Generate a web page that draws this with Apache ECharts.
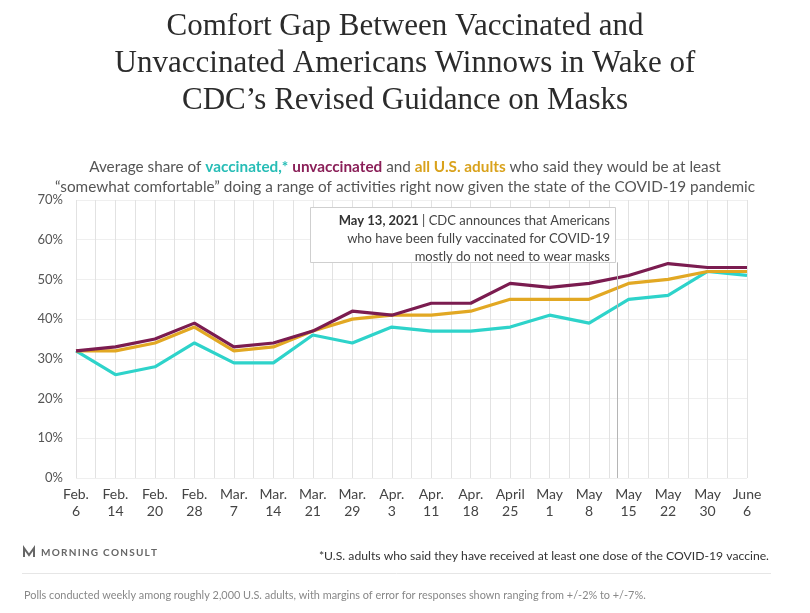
<!DOCTYPE html>
<html>
<head>
<meta charset="utf-8">
<script src="https://cdn.jsdelivr.net/npm/echarts@6/dist/echarts.min.js"></script>
<style>html,body{margin:0;padding:0;background:#fff;}#c{width:810px;height:613px;}</style>
</head>
<body>
<div id="c"></div>
<script>
const categories = ['Feb.\n6','Feb.\n14','Feb.\n20','Feb.\n28','Mar.\n7','Mar.\n14','Mar.\n21','Mar.\n29','Apr.\n3','Apr.\n11','Apr.\n18','April\n25','May\n1','May\n8','May\n15','May\n22','May\n30','June\n6'];
const vaccinated   = [32,26,28,34,29,29,36,34,38,37,37,38,41,39,45,46,52,51];
const unvaccinated = [32,33,35,39,33,34,37,42,41,44,44,49,48,49,51,54,53,53];
const allAdults    = [32,32,34,38,32,33,37,40,41,41,42,45,45,45,49,50,52,52];
const yTicks = [0,10,20,30,40,50,60,70];
const cdcDatePos = 13 + 5/7; // May 13 between May 8 and May 15
const cdcLineTop = 54.3;

const chart = echarts.init(document.getElementById('c'), null, {renderer:'canvas'});
const sans = 'Lato, "Noto Sans", sans-serif';
const toPairs = arr => arr.map((v,i)=>[i,v]);

const lineSeries = (name, data, color, z) => ({
  name, type:'line', data: toPairs(data), symbol:'none', z,
  lineStyle:{color, width:3.2}, itemStyle:{color}, silent:true
});

const option = {
  animation:false,
  backgroundColor:'#fff',
  grid:{left:76, right:63, top:200, bottom:135},
  xAxis:{
    type:'value', min:0, max:categories.length-1, interval:0.5,
    axisLine:{show:false}, axisTick:{show:false},
    splitLine:{show:true, lineStyle:{color:'#e2e2e2', width:1}},
    axisLabel:{
      color:'#444', fontFamily:sans, fontSize:14, lineHeight:17, margin:8,
      formatter: v => Number.isInteger(v) ? categories[v] : ''
    }
  },
  yAxis:{
    type:'value', min:yTicks[0], max:yTicks[yTicks.length-1], interval:10,
    axisLine:{show:false}, axisTick:{show:false},
    splitLine:{show:true, lineStyle:{color:'#efefef', width:1}},
    axisLabel:{color:'#555', fontFamily:sans, fontSize:13, margin:13, formatter: v => v + '%'}
  },
  series:[
    Object.assign(lineSeries('all', allAdults, '#E2A823', 3), {
      markLine:{
        silent:true, symbol:['none','none'], label:{show:false},
        lineStyle:{color:'#b5b5b5', width:1, type:'solid'},
        data:[[{coord:[cdcDatePos,0]},{coord:[cdcDatePos,cdcLineTop]}]]
      }
    }),
    lineSeries('vaccinated', vaccinated, '#2ED3CA', 2),
    lineSeries('unvaccinated', unvaccinated, '#7B1C50', 4),
  ],
  graphic:[
    {type:'text', x:405, y:8, style:{
      text:'Comfort Gap Between Vaccinated and\nUnvaccinated Americans Winnows in Wake of\nCDC’s Revised Guidance on Masks',
      font:'31px "Liberation Serif", serif', fill:'#2b2b2b', lineHeight:37, align:'center'
    }},
    {type:'text', x:405, y:157, style:{
      text:'Average share of {v|vaccinated,*} {u|unvaccinated} and {a|all U.S. adults} who said they would be at least\n“somewhat comfortable” doing a range of activities right now given the state of the COVID-19 pandemic',
      fontFamily:sans, fontSize:15.3, fill:'#555', lineHeight:20, align:'center',
      rich:{
        v:{fontFamily:sans, fontSize:15.3, fontWeight:'bold', fill:'#27BDB6', lineHeight:20},
        u:{fontFamily:sans, fontSize:15.3, fontWeight:'bold', fill:'#8A1F58', lineHeight:20},
        a:{fontFamily:sans, fontSize:15.3, fontWeight:'bold', fill:'#D9A21C', lineHeight:20}
      }
    }},
    {type:'rect', z:100, shape:{x:310.5, y:207.5, width:305, height:55}, style:{fill:'#fff', stroke:'#cfcfcf', lineWidth:1}},
    {type:'text', z:101, x:610, y:212, style:{
      text:'{b|May 13, 2021} | CDC announces that Americans\nwho have been fully vaccinated for COVID-19\nmostly do not need to wear masks',
      fontFamily:sans, fontSize:13, fill:'#444', lineHeight:18, align:'right',
      rich:{b:{fontFamily:sans, fontSize:13, fontWeight:'bold', fill:'#333', lineHeight:18}}
    }},
    {type:'polyline', shape:{points:[[24,557],[24,548],[29,555],[34,548],[34,557]]}, style:{stroke:'#666', lineWidth:2, fill:null}},
    {type:'text', x:41, y:548, style:{
      text:'M\u2009O\u2009R\u2009N\u2009I\u2009N\u2009G\u2009 \u2009C\u2009O\u2009N\u2009S\u2009U\u2009L\u2009T',
      fontFamily:sans, fontSize:10, fontWeight:'bold', fill:'#666'
    }},
    {type:'text', x:769, y:550, style:{
      text:'*U.S. adults who said they have received at least one dose of the COVID-19 vaccine.',
      fontFamily:sans, fontSize:12.2, fill:'#333', align:'right'
    }},
    {type:'line', shape:{x1:22, y1:573.5, x2:771, y2:573.5}, style:{stroke:'#e6e6e6', lineWidth:1}},
    {type:'text', x:24, y:590, style:{
      text:'Polls conducted weekly among roughly 2,000 U.S. adults, with margins of error for responses shown ranging from +/-2% to +/-7%.',
      fontFamily:sans, fontSize:10.9, fill:'#888'
    }}
  ]
};
chart.setOption(option);
</script>
</body>
</html>
